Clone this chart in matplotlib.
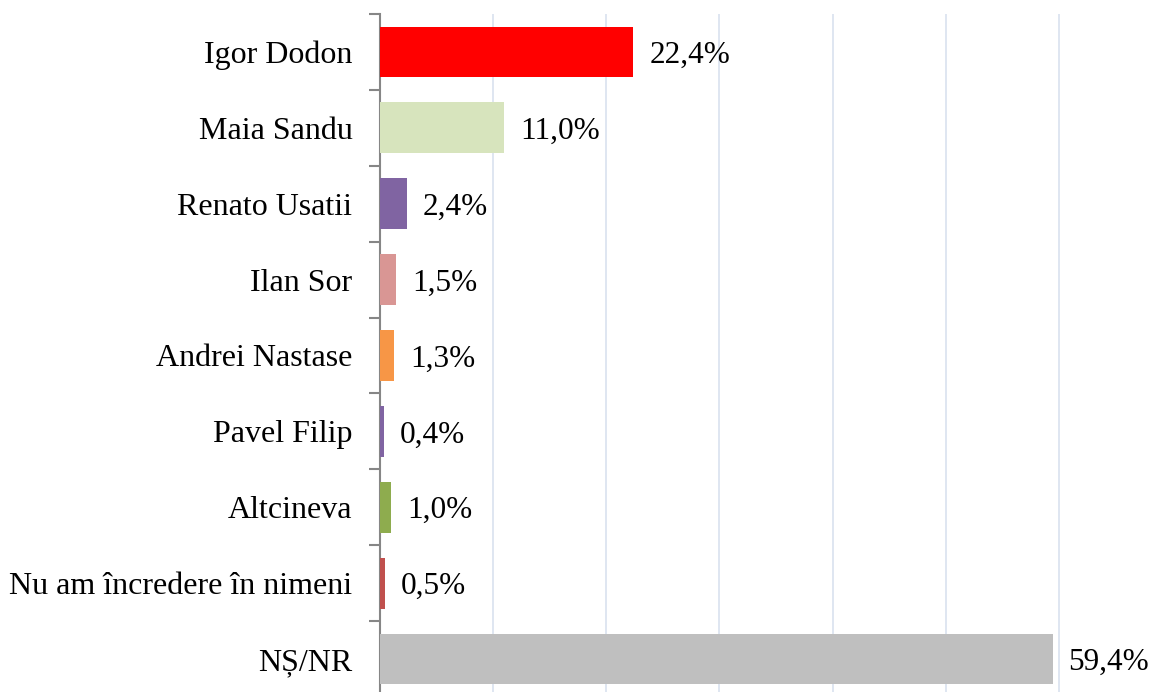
import numpy as np
import matplotlib.pyplot as plt

# Data
categories = ["Igor Dodon", "Maia Sandu", "Renato Usatii", "Ilan Sor", "Andrei Nastase",
              "Pavel Filip", "Altcineva", "Nu am încredere în nimeni", "NȘ/NR"]
values = [22.4, 11.0, 2.4, 1.5, 1.3, 0.4, 1.0, 0.5, 59.4]
labels = ["22,4%", "11,0%", "2,4%", "1,5%", "1,3%", "0,4%", "1,0%", "0,5%", "59,4%"]
colors = ["#FF0000", "#D7E4BD", "#8064A2", "#D99694", "#F79646",
          "#8064A2", "#8EAC4E", "#C0504D", "#BFBFBF"]

plt.rcParams['font.family'] = ['Liberation Serif', 'DejaVu Serif']

fig = plt.figure(figsize=(11.63, 6.92), dpi=100)
ax = fig.add_axes([379.5 / 1163, -5 / 692, 1 - 379.5 / 1163, 683 / 692])

y = np.arange(len(categories))
ax.barh(y, values, height=0.67, color=colors, zorder=3)

for yi, v, lab in zip(y, values, labels):
    ax.annotate(lab, (v, yi), xytext=(11.5, 0), textcoords="offset points",
                va="center_baseline", ha="left", fontsize=22.5)

ax.set_xlim(0, 69.15)
ax.set_ylim(len(categories) - 0.5, -0.5)
ax.set_xticks(np.arange(0, 70, 10))
ax.xaxis.grid(True, color="#DCE4F0", linewidth=1.3, zorder=0)
ax.tick_params(axis="x", length=0, labelbottom=False)

# category labels between ticks at boundaries
ax.set_yticks(np.arange(len(categories) + 1) - 0.5)
ax.set_yticklabels([])
ax.set_yticks(y, minor=True)
ax.set_yticklabels(categories, minor=True, fontsize=23, va="center_baseline")
ax.tick_params(axis="y", which="minor", length=0, pad=19.5)
ax.tick_params(axis="y", which="major", length=8, width=1.5, color="#868686", direction="out")

for s in ["top", "right", "bottom"]:
    ax.spines[s].set_visible(False)
ax.spines["left"].set_color("#868686")
ax.spines["left"].set_linewidth(1.5)

plt.savefig("out.png", dpi=100)
